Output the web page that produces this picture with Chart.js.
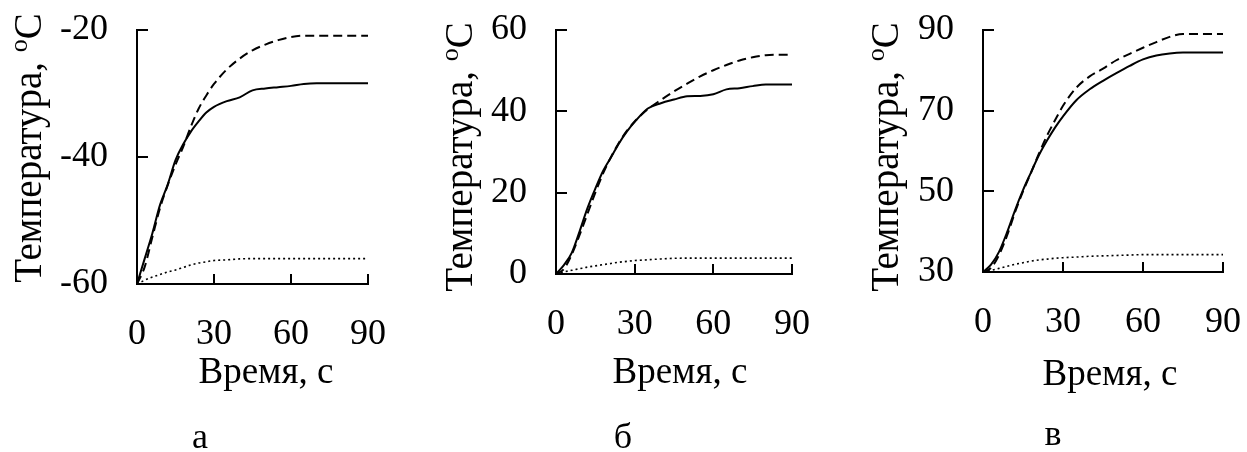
<!DOCTYPE html>
<html>
<head>
<meta charset="utf-8">
<script src="https://cdn.jsdelivr.net/npm/chart.js@4.4.1/dist/chart.umd.min.js"></script>
<style>
  html, body { margin: 0; padding: 0; background: #fff; }
  #wrap { position: relative; width: 1247px; height: 452px; background: #fff; }
  .panel { position: absolute; top: 0; height: 452px; }
</style>
</head>
<body>
<div id="wrap">
  <div class="panel" style="left:0px;width:415px"><canvas id="chartA"></canvas></div>
  <div class="panel" style="left:415px;width:415px"><canvas id="chartB"></canvas></div>
  <div class="panel" style="left:830px;width:417px"><canvas id="chartC"></canvas></div>
</div>
<script>
// time grid, s
var times = [0, 3, 6, 9, 12, 15, 18, 21, 24, 27, 30, 35, 40, 45, 50, 55, 60, 65, 70, 75, 80, 85, 90];

// panel а
var solidA  = [-60, -56, -52, -47.5, -44.3, -40.5, -38, -36, -34.4, -33.0, -32.1, -31.2, -30.6, -29.5, -29.2, -29.0, -28.8, -28.5, -28.4, -28.4, -28.4, -28.4, -28.4];
var dashedA = [-60, -57.3, -52.6, -48, -44.4, -41.2, -38.4, -35.2, -32.4, -30.3, -28.5, -26.2, -24.5, -23.2, -22.3, -21.6, -21.1, -20.9, -20.9, -20.9, -20.9, -20.9, -20.9];
var dottedA = [-60, -59.4, -58.9, -58.5, -58.1, -57.8, -57.4, -57.0, -56.7, -56.5, -56.3, -56.2, -56.05, -56, -56, -56, -56, -56, -56, -56, -56, -56, -56];

// panel б
var solidB  = [0, 2.2, 5.2, 10.5, 16.2, 21.0, 25.4, 28.7, 32.1, 35.0, 37.4, 40.7, 42.0, 42.9, 43.7, 43.8, 44.2, 45.4, 45.7, 46.2, 46.6, 46.6, 46.6];
var dashedB = [0, 1.2, 4.8, 9.6, 14.8, 20.0, 24.8, 28.8, 32.3, 35.2, 37.5, 40.5, 42.8, 44.9, 46.8, 48.6, 50.1, 51.4, 52.5, 53.3, 53.8, 53.9, 53.9];
var dottedB = [0, 0.5, 0.9, 1.3, 1.7, 2.0, 2.3, 2.6, 2.9, 3.1, 3.3, 3.5, 3.7, 3.85, 3.9, 3.9, 3.9, 3.9, 3.9, 3.9, 3.9, 3.9, 3.9];

// panel в
var solidC  = [30, 31.8, 35.0, 39.8, 45.3, 50.3, 54.7, 59.0, 62.6, 65.8, 68.6, 72.6, 75.3, 77.4, 79.3, 81.1, 82.7, 83.7, 84.2, 84.4, 84.4, 84.4, 84.4];
var dashedC = [30, 31.0, 34.2, 39.0, 44.8, 50.0, 54.6, 59.4, 63.8, 67.6, 71.2, 75.7, 78.5, 80.4, 82.5, 84.1, 85.6, 87.0, 88.3, 89.0, 89.0, 89.0, 89.0];
var dottedC = [30, 30.4, 30.9, 31.4, 31.9, 32.3, 32.7, 33.0, 33.2, 33.4, 33.55, 33.7, 33.9, 34.0, 34.1, 34.2, 34.3, 34.3, 34.3, 34.3, 34.3, 34.3, 34.3];

var xTicks = [0, 30, 60, 90];
var yRangeA = [-60, -20], yStepA = 20;
var yRangeB = [0, 60], yStepB = 20;
var yRangeC = [30, 90], yStepC = 20;

var xTitle = 'Время, с';
var yTitle = ['Температура, ', 'о', 'С'];
var letters = ['а', 'б', 'в'];

var SERIF = '"Liberation Serif", "Times New Roman", serif';

function pts(ys) {
  return times.map(function (t, i) { return { x: t, y: ys[i] }; });
}

// inward ticks, titles and panel letter
var decor = {
  id: 'decor',
  afterDraw: function (chart, args, o) {
    var ctx = chart.ctx;
    var a = chart.chartArea;
    var xs = chart.scales.x, ys = chart.scales.y;
    ctx.save();
    ctx.strokeStyle = '#000';
    ctx.lineWidth = 2;
    ctx.beginPath();
    xs.ticks.forEach(function (t) {
      var px = Math.round(xs.getPixelForValue(t.value));
      ctx.moveTo(px, a.bottom);
      ctx.lineTo(px, a.bottom - 10);
    });
    ys.ticks.forEach(function (t) {
      var py = Math.round(ys.getPixelForValue(t.value));
      ctx.moveTo(a.left, py);
      ctx.lineTo(a.left + 11, py);
    });
    ctx.stroke();

    ctx.fillStyle = '#000';
    // x title
    ctx.font = '37px ' + SERIF;
    ctx.textAlign = 'center';
    ctx.textBaseline = 'middle';
    ctx.fillText(xTitle, o.xTitleX, o.xTitleY);
    // letter
    ctx.font = '36px ' + SERIF;
    ctx.fillText(o.letter, o.letterX, o.letterY);

    // y title with superscript
    ctx.translate(o.yTitleX, o.yTitleY);
    ctx.rotate(-Math.PI / 2);
    var big = '39px ' + SERIF, small = '26px ' + SERIF;
    ctx.font = big;
    var w1 = ctx.measureText(yTitle[0]).width;
    var w3 = ctx.measureText(yTitle[2]).width;
    ctx.font = small;
    var w2 = ctx.measureText(yTitle[1]).width;
    var x0 = -(w1 + w2 + w3) / 2;
    ctx.textAlign = 'left';
    ctx.textBaseline = 'alphabetic';
    var base = 13;
    ctx.font = big;
    ctx.fillText(yTitle[0], x0, base);
    ctx.font = small;
    ctx.fillText(yTitle[1], x0 + w1, base - 14);
    ctx.font = big;
    ctx.fillText(yTitle[2], x0 + w1 + w2, base);
    ctx.restore();
  }
};

function makeChart(id, solid, dashed, dotted, yRange, yStep, box, deco) {
  var ctx = document.getElementById(id).getContext('2d');
  return new Chart(ctx, {
    type: 'line',
    data: {
      datasets: [
        { data: pts(solid), borderColor: '#000', borderWidth: 2, pointRadius: 0, cubicInterpolationMode: 'monotone' },
        { data: pts(dashed), borderColor: '#000', borderWidth: 2, borderDash: [9, 5], pointRadius: 0, cubicInterpolationMode: 'monotone' },
        { data: pts(dotted), borderColor: '#000', borderWidth: 1.6, borderDash: [2, 3], pointRadius: 0, cubicInterpolationMode: 'monotone' }
      ]
    },
    options: {
      responsive: true,
      maintainAspectRatio: false,
      animation: false,
      events: [],
      layout: { padding: { left: 0, top: box.top, right: box.right, bottom: 0 } },
      plugins: { legend: { display: false }, tooltip: { enabled: false }, decor: deco },
      scales: {
        x: {
          type: 'linear',
          min: 0, max: 90,
          afterBuildTicks: function (s) { s.ticks = xTicks.map(function (v) { return { value: v }; }); },
          grid: { display: false, drawTicks: false },
          border: { display: true, color: '#000', width: 2 },
          ticks: { color: '#000', font: { family: SERIF, size: 36 }, padding: 29, maxRotation: 0 },
          afterFit: function (s) { s.height = box.xh; s.paddingLeft = 0; s.paddingRight = 0; }
        },
        y: {
          min: yRange[0], max: yRange[1],
          ticks: { stepSize: yStep, color: '#000', font: { family: SERIF, size: 36 }, padding: 29 },
          grid: { display: false, drawTicks: false },
          border: { display: true, color: '#000', width: 2 },
          afterFit: function (s) { s.width = box.yw; s.paddingTop = 0; s.paddingBottom = 0; }
        }
      }
    },
    plugins: [decor]
  });
}

makeChart('chartA', solidA, dashedA, dottedA, yRangeA, yStepA,
  { top: 30, right: 47, xh: 168, yw: 137 },
  { letter: letters[0], letterX: 200, letterY: 439, xTitleX: 266, xTitleY: 373, yTitleX: 28, yTitleY: 148 });
makeChart('chartB', solidB, dashedB, dottedB, yRangeB, yStepB,
  { top: 30, right: 38, xh: 178, yw: 141 },
  { letter: letters[1], letterX: 208, letterY: 439, xTitleX: 265, xTitleY: 373, yTitleX: 44, yTitleY: 157 });
makeChart('chartC', solidC, dashedC, dottedC, yRangeC, yStepC,
  { top: 30, right: 24, xh: 180, yw: 153 },
  { letter: letters[2], letterX: 223, letterY: 436, xTitleX: 280, xTitleY: 375, yTitleX: 55, yTitleY: 157 });
</script>
</body>
</html>
